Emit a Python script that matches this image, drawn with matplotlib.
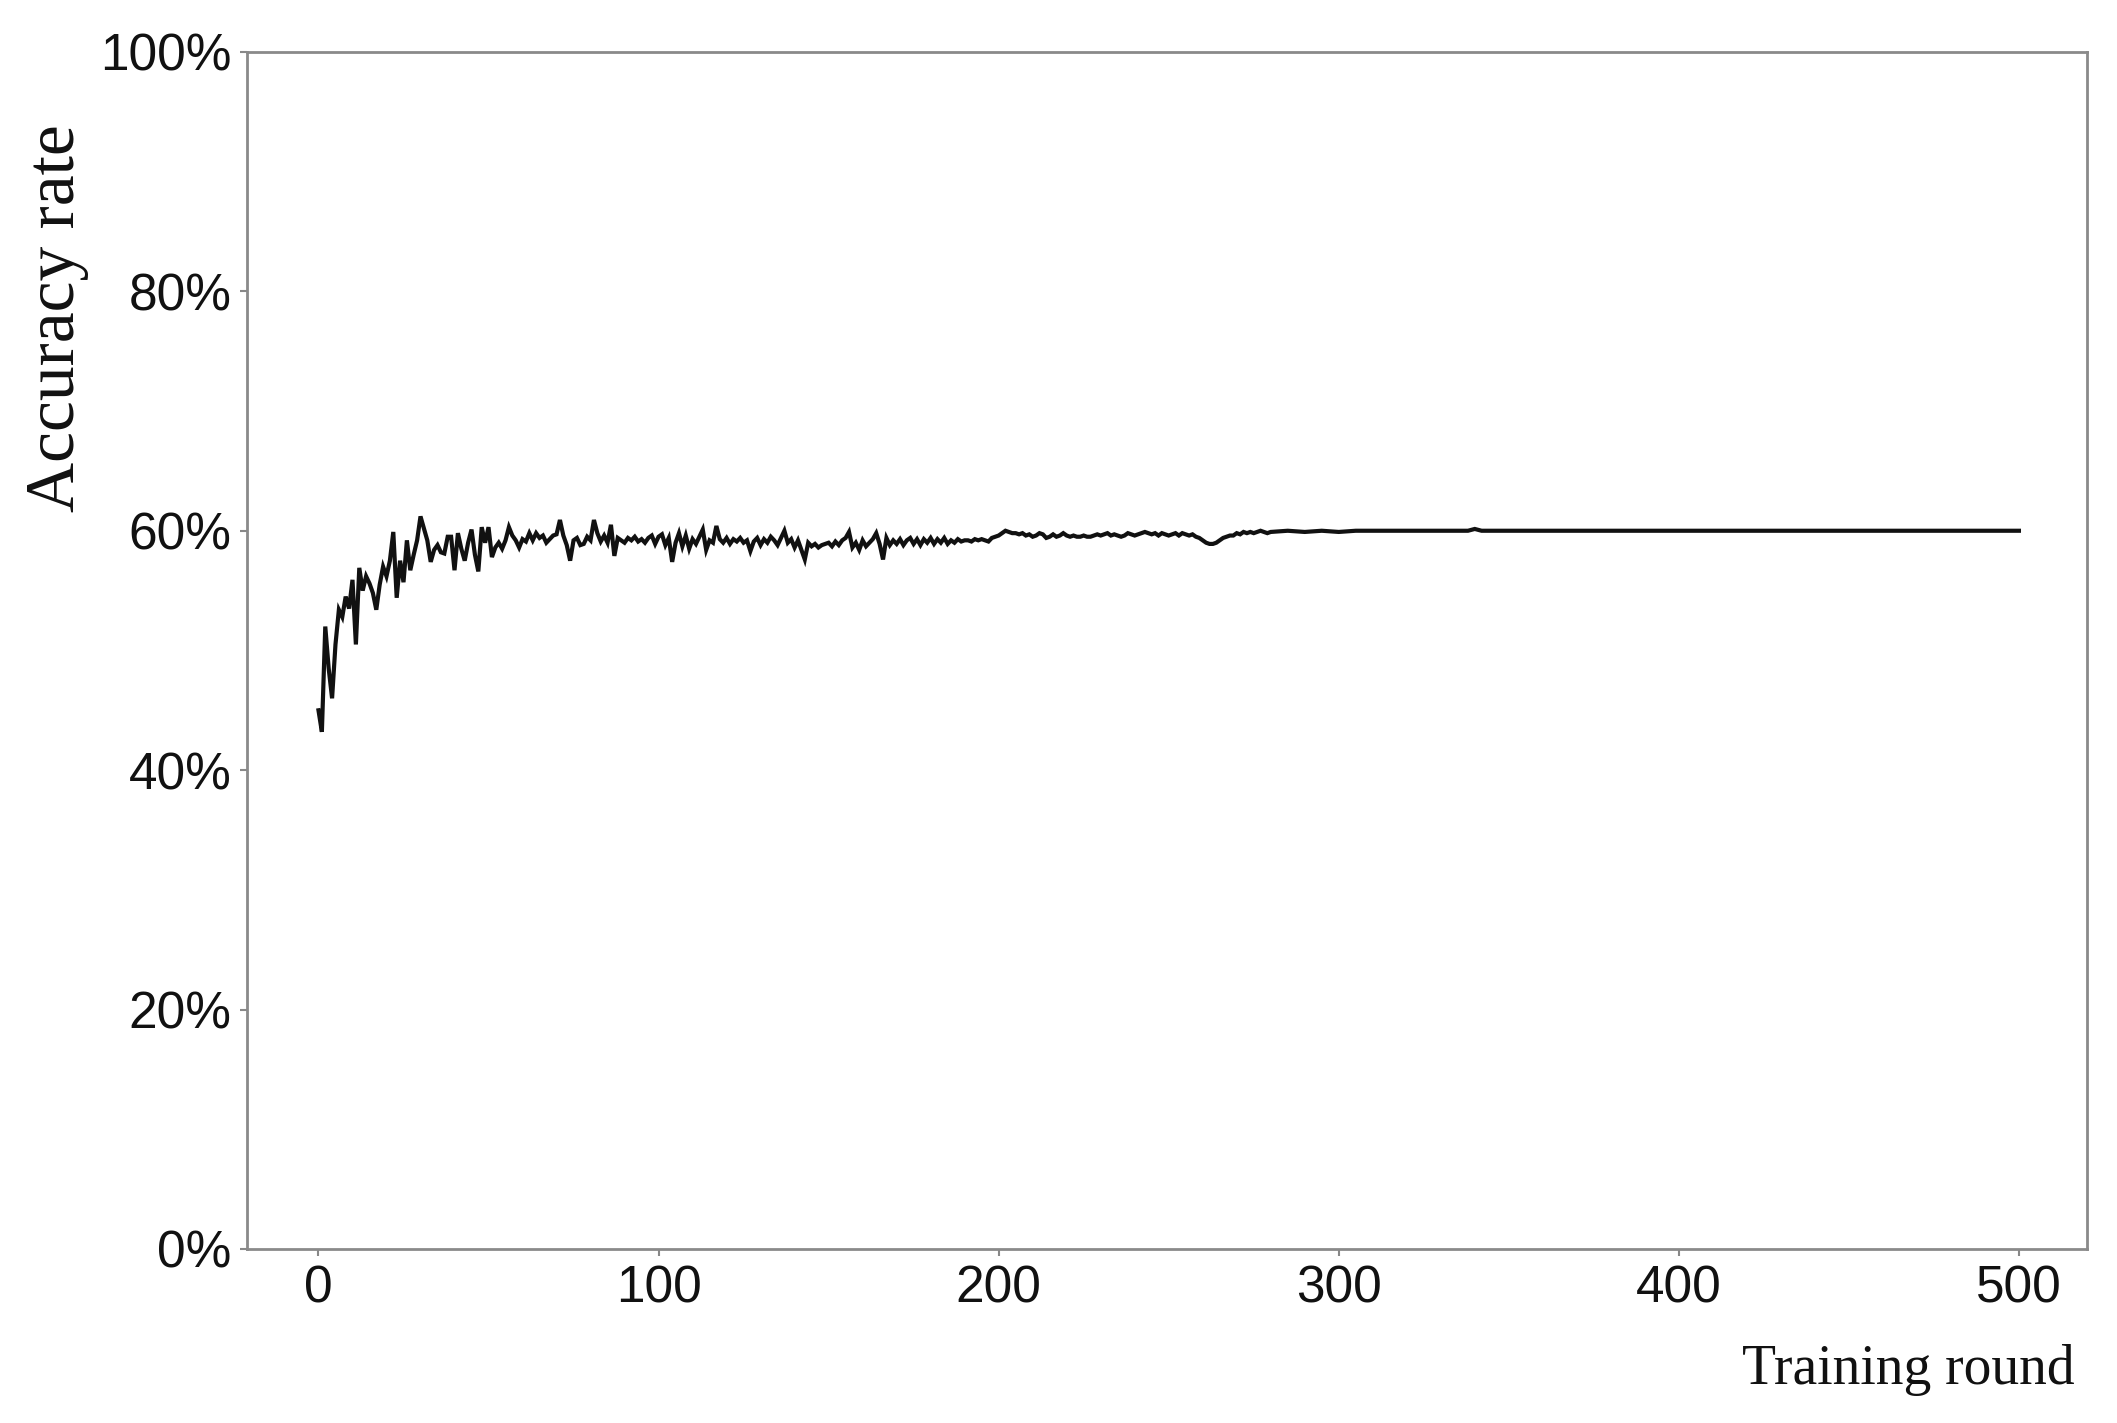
import matplotlib
matplotlib.use("Agg")
import matplotlib.pyplot as plt

# Accuracy (%) per training round, rounds 0..280
acc_rounds_0_280 = [
    45.0, 43.2, 52.0, 48.5, 46.0, 50.5, 53.4, 52.8, 54.5, 53.5,
    55.9, 50.5, 56.9, 55.0, 56.2, 55.6, 54.8, 53.4, 55.5, 57.0,
    56.2, 57.5, 59.9, 54.4, 57.5, 55.7, 59.2, 56.7, 58.0, 59.2,
    61.2, 60.2, 59.2, 57.4, 58.4, 58.8, 58.2, 58.1, 59.5, 59.5,
    56.7, 59.8, 58.5, 57.5, 59.0, 60.1, 58.0, 56.6, 60.3, 59.0,
    60.3, 57.8, 58.6, 59.0, 58.5, 59.2, 60.3, 59.6, 59.2, 58.6,
    59.3, 59.1, 59.8, 59.2, 59.8, 59.4, 59.6, 59.0, 59.3, 59.6,
    59.7, 60.9, 59.6, 58.8, 57.5, 59.2, 59.4, 58.8, 58.9, 59.5,
    59.2, 60.9, 59.8, 59.1, 59.6, 59.0, 60.5, 57.9, 59.4, 59.2,
    59.0, 59.4, 59.2, 59.5, 59.1, 59.3, 59.0, 59.4, 59.6, 58.9,
    59.5, 59.7, 58.8, 59.4, 57.4, 59.0, 59.8, 58.7, 59.6, 58.5,
    59.3, 58.9, 59.5, 60.1, 58.4, 59.2, 59.0, 60.4, 59.3, 59.0,
    59.4, 58.9, 59.3, 59.1, 59.4, 59.0, 59.2, 58.3, 59.1, 59.4,
    58.8, 59.3, 59.0, 59.5, 59.2, 58.8, 59.4, 60.0, 59.0, 59.3,
    58.6, 59.2, 58.4, 57.6, 59.0, 58.7, 58.9, 58.6, 58.8, 58.9,
    59.0, 58.7, 59.1, 58.8, 59.2, 59.4, 59.9, 58.6, 59.0, 58.4,
    59.2, 58.7, 59.0, 59.3, 59.8, 58.9, 57.6, 59.4, 58.8, 59.2,
    58.9, 59.3, 58.8, 59.2, 59.4, 58.9, 59.3, 58.8, 59.3, 59.0,
    59.4, 58.9, 59.3, 59.0, 59.4, 58.9, 59.2, 59.0, 59.3, 59.1,
    59.2, 59.2, 59.1, 59.3, 59.2, 59.3, 59.2, 59.1, 59.4, 59.5,
    59.6, 59.8, 60.0, 59.9, 59.8, 59.8, 59.7, 59.8, 59.6, 59.7,
    59.5, 59.6, 59.8, 59.7, 59.4, 59.5, 59.7, 59.5, 59.6, 59.8,
    59.6, 59.5, 59.6, 59.5, 59.5, 59.6, 59.5, 59.5, 59.6, 59.7,
    59.6, 59.7, 59.8, 59.6, 59.7, 59.6, 59.5, 59.6, 59.8, 59.7,
    59.6, 59.7, 59.8, 59.9, 59.8, 59.7, 59.8, 59.6, 59.8, 59.7,
    59.6, 59.7, 59.8, 59.6, 59.8, 59.7, 59.6, 59.7, 59.5, 59.4,
    59.2, 59.0, 58.9, 58.9, 59.0, 59.2, 59.4, 59.5, 59.6, 59.6,
    59.8, 59.7, 59.9, 59.8, 59.9, 59.8, 59.9, 60.0, 59.9, 59.8,
    59.9,
]
# later rounds (converged, nearly flat)
tail_rounds = [285, 290, 295, 300, 305, 310, 315, 330, 338, 340, 342, 360, 400, 450, 500]
tail_acc = [60.0, 59.9, 60.0, 59.9, 60.0, 60.0, 60.0, 60.0, 60.0, 60.15, 60.0, 60.0, 60.0, 60.0, 60.0]

x_ticks = [0, 100, 200, 300, 400, 500]
y_ticks = [0, 20, 40, 60, 80, 100]
y_tick_labels = ["0%", "20%", "40%", "60%", "80%", "100%"]

rounds = list(range(len(acc_rounds_0_280))) + tail_rounds
acc = acc_rounds_0_280 + tail_acc

fig = plt.figure(figsize=(21.17, 14.23), dpi=100)
ax = fig.add_axes([0.1167, 0.1223, 0.8691, 0.8412])
ax.plot(rounds, acc, color="#111111", lw=3.0, solid_joinstyle="miter")

ax.set_xlim(-21, 520)
ax.set_ylim(0, 100)
ax.set_xticks(x_ticks)
ax.set_yticks(y_ticks)
ax.set_yticklabels(y_tick_labels)
for lab in ax.get_xticklabels() + ax.get_yticklabels():
    lab.set_fontfamily("Liberation Sans")
    lab.set_fontsize(37)
    lab.set_color("#111111")
ax.tick_params(axis="both", length=5, width=1.5, color="#888888", pad=6)
for s in ax.spines.values():
    s.set_color("#8a8a8a")
    s.set_linewidth(2)

fig.text(0.0270, 0.7765, "Accuracy rate", rotation=90, ha="center", va="center",
         family="Liberation Serif", fontsize=50, color="#111111")
fig.text(0.980, 0.0372, "Training round", ha="right", va="center",
         family="Liberation Serif", fontsize=40, color="#111111")

fig.savefig("out.png", dpi=100, facecolor="white")
